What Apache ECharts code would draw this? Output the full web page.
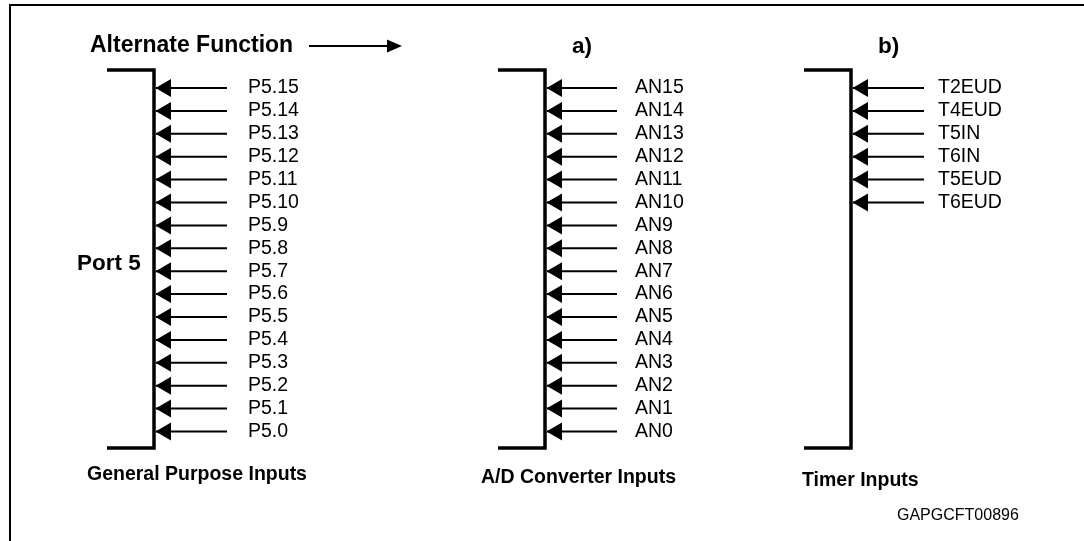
<!DOCTYPE html>
<html><head><meta charset="utf-8">
<script src="https://cdn.jsdelivr.net/npm/echarts@6/dist/echarts.min.js"></script>
<style>html,body{margin:0;padding:0;background:#fff}#c{width:1084px;height:541px}</style>
</head><body><div id="c"></div>
<script>
// ---------- data ----------
const portPins  = ['P5.15','P5.14','P5.13','P5.12','P5.11','P5.10','P5.9','P5.8','P5.7','P5.6','P5.5','P5.4','P5.3','P5.2','P5.1','P5.0'];
const adcPins   = ['AN15','AN14','AN13','AN12','AN11','AN10','AN9','AN8','AN7','AN6','AN5','AN4','AN3','AN2','AN1','AN0'];
const timerPins = ['T2EUD','T4EUD','T5IN','T6IN','T5EUD','T6EUD'];
const groupTitles  = ['', 'a)', 'b)'];
const groupFooters = ['General Purpose Inputs', 'A/D Converter Inputs', 'Timer Inputs'];
const portName = 'Port 5';
const headerText = 'Alternate Function';
const figureId = 'GAPGCFT00896';

// ---------- layout (pixels horizontally, row units vertically) ----------
const ROW_TOP = 88, ROW_STEP = 22.9, H = 541, W = 1084;
const pxRow = px => (px - ROW_TOP) / ROW_STEP;
const groups = [
  {pins: portPins,  barX: 154, lineEnd: 227, labelX: 248, titleX: 0,   footerX: 87,  footerY: 475},
  {pins: adcPins,   barX: 545, lineEnd: 617, labelX: 635, titleX: 572, footerX: 481, footerY: 478},
  {pins: timerPins, barX: 851, lineEnd: 924, labelX: 938, titleX: 878, footerX: 802, footerY: 481}
];
const BRACKET_TOP = pxRow(70), BRACKET_BOT = pxRow(448), BRACKET_ARM = 47;

const pinData = [];
groups.forEach((g, gi) => g.pins.forEach((p, r) => pinData.push([gi, r, p])));

const FAMILY = '"Liberation Sans", Arial, sans-serif';
const LABEL_FONT = {fontFamily: FAMILY, fontSize: 19.5, fill: '#000'};

function renderPin(params, api) {
  const gi = api.value(0), r = api.value(1);
  const g = groups[gi];
  const p0 = api.coord([g.barX, r]);
  const xb = p0[0], y = p0[1];
  const xe = api.coord([g.lineEnd, r])[0];
  const xl = api.coord([g.labelX, r])[0];
  return {type: 'group', children: [
    {type: 'line', shape: {x1: xb + 2, y1: y, x2: xe, y2: y}, style: {stroke: '#000', lineWidth: 2}},
    {type: 'polygon', shape: {points: [[xb + 1.5, y], [xb + 17, y - 9], [xb + 17, y + 9]]}, style: {fill: '#000'}},
    {type: 'text', x: xl, y: y, style: Object.assign({text: pinData[params.dataIndex][2], align: 'left', verticalAlign: 'middle'}, LABEL_FONT)}
  ]};
}

function renderBracket(params, api) {
  const g = groups[api.value(0)];
  const a = api.coord([g.barX - BRACKET_ARM, BRACKET_TOP]);
  const b = api.coord([g.barX, BRACKET_TOP]);
  const c = api.coord([g.barX, BRACKET_BOT]);
  const d = api.coord([g.barX - BRACKET_ARM, BRACKET_BOT]);
  return {type: 'polyline', shape: {points: [a, b, c, d]}, style: {stroke: '#000', lineWidth: 3.5, fill: null, lineJoin: 'miter'}};
}

// captions: [x, row, text, size, bold]
const captions = [
  [90, pxRow(46), headerText, 23, true],
  [77, pxRow(264), portName, 22.5, true],
  [897, pxRow(516), figureId, 16, false]
];
groups.forEach((g, i) => {
  if (groupTitles[i]) captions.push([g.titleX, pxRow(47), groupTitles[i], 22.5, true]);
  captions.push([g.footerX, pxRow(g.footerY), groupFooters[i], 19.5, true]);
});

function renderCaption(params, api) {
  const c = captions[params.dataIndex];
  const p = api.coord([c[0], c[1]]);
  return {type: 'text', x: p[0], y: p[1], style: {
    text: c[2], fontFamily: FAMILY, fontSize: c[3], fontWeight: c[4] ? 'bold' : 'normal',
    fill: '#000', align: 'left', verticalAlign: 'middle'}};
}

// header arrow: from x 309 to 402 at y=46
const headerArrow = [[309, pxRow(46), 402]];
function renderArrow(params, api) {
  const v = headerArrow[params.dataIndex];
  const s = api.coord([v[0], v[1]]), e = api.coord([v[2], v[1]]);
  return {type: 'group', children: [
    {type: 'line', shape: {x1: s[0], y1: s[1], x2: e[0] - 10, y2: s[1]}, style: {stroke: '#000', lineWidth: 2}},
    {type: 'polygon', shape: {points: [[e[0], s[1]], [e[0] - 15, s[1] - 6.5], [e[0] - 15, s[1] + 6.5]]}, style: {fill: '#000'}}
  ]};
}

const chart = echarts.init(document.getElementById('c'), null, {renderer: 'canvas'});
chart.setOption({
  backgroundColor: '#fff',
  animation: false,
  grid: {left: 0, right: 0, top: 0, bottom: 0},
  xAxis: {type: 'value', min: 0, max: W, show: false},
  yAxis: {type: 'value', inverse: true, min: pxRow(0), max: pxRow(H), show: false},
  graphic: [{type: 'polyline', shape: {points: [[10, H + 5], [10, 5], [W + 5, 5]]}, style: {stroke: '#000', lineWidth: 2, fill: null}}],
  series: [
    {type: 'custom', renderItem: renderBracket, data: groups.map((g, i) => [i]), silent: true},
    {type: 'custom', renderItem: renderPin, data: pinData.map(d => [d[0], d[1]]), silent: true},
    {type: 'custom', renderItem: renderCaption, data: captions.map(c => [c[0], c[1]]), silent: true},
    {type: 'custom', renderItem: renderArrow, data: headerArrow.map(a => [a[0], a[1]]), silent: true}
  ]
});
</script></body></html>
